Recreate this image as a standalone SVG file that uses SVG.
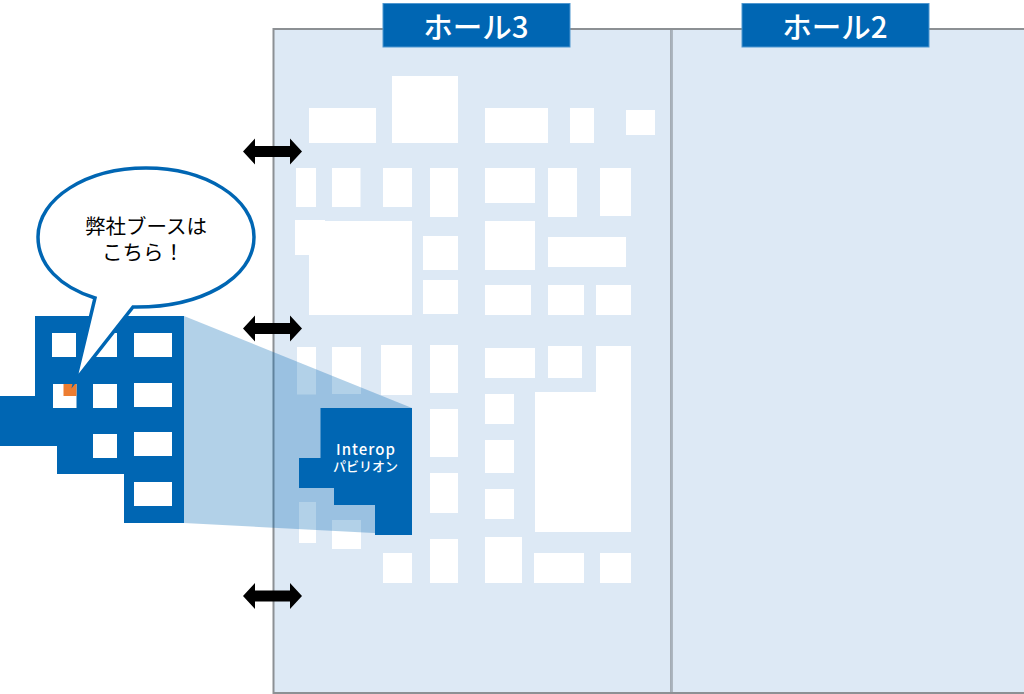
<svg xmlns="http://www.w3.org/2000/svg" width="1024" height="694" viewBox="0 0 1024 694">
<style>
text{font-family:"Noto Sans CJK JP","Noto Sans",sans-serif;text-anchor:middle}
.hall{fill:#dde9f5;stroke:#8c9094;stroke-width:2}
.w{fill:#fff}
.b{fill:#0066b3}
.lab{fill:#0066b3;stroke:#4f97d0;stroke-width:1}
.hl{fill:#fff;font-size:29.500px;font-weight:500}
.bt{fill:#000;font-size:20.500px}
.it{fill:#fff;font-weight:500}
.ar{fill:#000}
</style>
<defs>
<polygon id="dbl" points="243,0 255,-13 255,-5.500 290,-5.500 290,-13 302,0 290,13 290,5.500 255,5.500 255,13"/>
</defs>
<g id="halls">
<rect class="hall" x="273.500" y="29" width="398" height="664"/>
<rect class="hall" x="671.500" y="29" width="354" height="664"/>
<line x1="671.500" y1="30" x2="671.500" y2="692" stroke="#a8b2bc" stroke-width="2"/>
</g>
<g id="booths" class="w">
<rect x="309" y="108" width="67" height="35"/>
<rect x="392" y="76" width="66" height="67"/>
<rect x="485" y="108" width="63" height="35"/>
<rect x="570" y="108" width="24" height="35"/>
<rect x="626" y="110" width="29" height="25"/>
<rect x="296" y="168" width="20" height="39"/>
<rect x="332" y="168" width="28.500" height="39"/>
<rect x="383" y="168" width="29" height="39"/>
<rect x="430" y="168" width="28" height="49"/>
<rect x="485" y="168" width="50" height="35"/>
<rect x="548" y="168" width="29" height="49"/>
<rect x="600" y="168" width="31" height="48"/>
<polygon points="295,220 325,220 325,221 412,221 412,315 309,315 309,255 295,255"/>
<rect x="423" y="236" width="35" height="34"/>
<rect x="423" y="280" width="35" height="34"/>
<rect x="485" y="221" width="50" height="49"/>
<rect x="548" y="237" width="78" height="30"/>
<rect x="485" y="285" width="46" height="30"/>
<rect x="548" y="285" width="36" height="30"/>
<rect x="596" y="285" width="35" height="30"/>
<rect x="297" y="347" width="19" height="47.500"/>
<rect x="332" y="347" width="29" height="47"/>
<rect x="381" y="345" width="31" height="50"/>
<rect x="430" y="345" width="28" height="48"/>
<rect x="430" y="409" width="28" height="48"/>
<rect x="430" y="473" width="28" height="40"/>
<rect x="430" y="539" width="28" height="44"/>
<rect x="383" y="553" width="29" height="30"/>
<rect x="299" y="502" width="17" height="41"/>
<rect x="332" y="520" width="29" height="29"/>
<rect x="485" y="348" width="50" height="30"/>
<rect x="548" y="346" width="34" height="32"/>
<polygon points="596,346 631,346 631,532 535,532 535,392 596,392"/>
<rect x="485" y="394" width="29" height="30"/>
<rect x="485" y="440" width="29" height="33"/>
<rect x="485" y="489" width="29" height="30"/>
<rect x="485" y="537" width="37" height="46"/>
<rect x="534" y="553" width="50" height="30"/>
<rect x="600" y="553" width="31" height="30"/>
</g>
<g id="hall3-label">
<rect class="lab" x="383" y="3.500" width="187" height="43.500"/>
<text class="hl" x="476" y="38">ホール3</text>
</g>
<g id="hall2-label">
<rect class="lab" x="742" y="3.500" width="187" height="43.500"/>
<text class="hl" x="835" y="38">ホール2</text>
</g>
<g id="building">
<polygon class="b" points="35,316 184,316 184,523 124,523 124,474 57,474 57,446 0,446 0,396 35,396"/>
<g class="w">
<rect x="52" y="333" width="24" height="24"/>
<rect x="93" y="333" width="24" height="24"/>
<rect x="134" y="333" width="38" height="24"/>
<rect x="53" y="384" width="23.500" height="24"/>
<rect x="93" y="384" width="24" height="24"/>
<rect x="134" y="383" width="38" height="24"/>
<rect x="93" y="434" width="24" height="24"/>
<rect x="134" y="432" width="38" height="24"/>
<rect x="134" y="482" width="38" height="24"/>
</g>
<rect fill="#ed7d31" x="63.500" y="384" width="13" height="12"/>
</g>
<polygon id="zoom-cone" fill="#0066b3" fill-opacity="0.3" points="184,316 412,408 412,535 184,523"/>
<g id="interop-pavilion">
<polygon class="b" points="320.500,408 412,408 412,535 375,535 375,505 334,505 334,488 299,488 299,458 320.500,458"/>
<text class="it"><tspan x="366" y="455" font-size="15" letter-spacing="1">Interop</tspan><tspan x="365.500" y="471" font-size="13">パビリオン</tspan></text>
</g>
<g id="connectors" class="ar">
<use href="#dbl" y="151.500"/>
<use href="#dbl" y="328.500"/>
<use href="#dbl" y="596"/>
</g>
<g id="callout">
<path d="M95,298 C60,287 38,265 38,237 C38,198 87,168 146,168 C205,168 254,198 254,237 C254,279 200,308 133,307 L75,381 Z" fill="#fff" stroke="#0066b3" stroke-width="3.500" stroke-miterlimit="20"/>
<text class="bt"><tspan x="146" y="234">弊社ブースは</tspan><tspan x="143" y="260">こちら！</tspan></text>
</g>
</svg>
